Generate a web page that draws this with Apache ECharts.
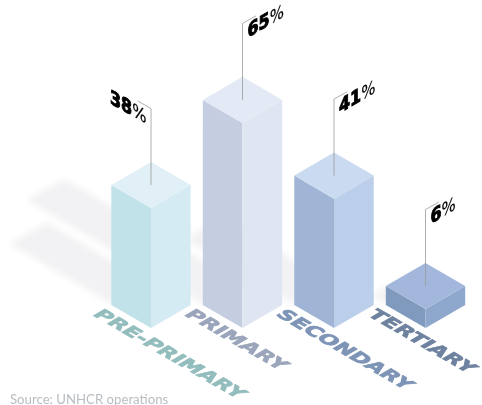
<!DOCTYPE html>
<html>
<head>
<meta charset="utf-8">
<style>html,body{margin:0;padding:0;background:#fff;overflow:hidden}#c{width:482px;height:405px}</style>
<script src="https://cdn.jsdelivr.net/npm/echarts@6/dist/echarts.min.js"></script>
</head>
<body>
<div id="c"></div>
<script>
var categories = ['PRE-PRIMARY', 'PRIMARY', 'SECONDARY', 'TERTIARY'];
var percentages = [38, 65, 41, 6];
var source = 'Source: UNHCR operations';

var leftFaces = ['#c2e2e9', '#c5cee0', '#a0b5d6', '#7f9abd'];
var rightFaces = ['#d5ebf4', '#e0e5f2', '#bbceea', '#8ea7cd'];
var topFaces = ['#e1f0f7', '#e3e9f5', '#cadaf0', '#a3b7dc'];
var labelColors = ['#93bdbd', '#9aa5bb', '#7d94b6', '#6e829f'];

var COS = 0.866, SIN = 0.5, OFF = 1000;

// Nested groups: any 2x2 matrix = rot(phi) * scale * rot(theta)
function warped(x, y, ax, ay, cx, cy, child) {
  var E = (ax + cy) / 2, F = (ax - cy) / 2, G = (ay + cx) / 2, H = (ay - cx) / 2;
  var Q = Math.hypot(E, H), R = Math.hypot(F, G);
  var a1 = Math.atan2(G, F), a2 = Math.atan2(H, E);
  var theta = (a2 - a1) / 2, phi = (a2 + a1) / 2;
  child.rotation = -theta;
  return {
    type: 'group', x: x, y: y, rotation: -phi, scaleX: Q + R, scaleY: Q - R,
    children: [child]
  };
}

function geometry(api) {
  var base = api.coord([api.value(0), 0]);
  var top = api.coord([api.value(0), api.value(1)]);
  var hw = api.size([1, 0])[0] * 0.434;
  return { x: base[0], y0: base[1], y1: top[1], hw: hw, dy: hw * 0.58 };
}

function renderShadow(params, api) {
  var g = geometry(api), v = api.value(1);
  var L = v * 2.74, dx = L, dy = L * 0.59;
  var lx = g.x - g.hw + 2, ly = g.y0 - g.dy;
  var bx = g.x, by = g.y0 - 2 * g.dy + 2;
  var pts = [[lx, ly], [lx - dx, ly - dy], [bx - dx, by - dy], [bx, by]].map(function (p) {
    return [p[0] - OFF, p[1]];
  });
  return {
    type: 'polygon',
    shape: { points: pts },
    style: { fill: '#f2f2f4', shadowBlur: 7, shadowColor: '#f2f2f4', shadowOffsetX: OFF, shadowOffsetY: 0 }
  };
}

function renderBar(params, api) {
  var i = params.dataIndex, g = geometry(api), x = g.x, hw = g.hw, d = g.dy;
  var poleTop = g.y1 - d - 76.5;
  var left = i === 0;
  var val = api.value(1);
  var flagX = left ? x - 13 : x + 13.4;
  var text = {
    type: 'text',
    style: {
      text: '{n|' + val + '}{p|%}',
      x: 0, y: 0, textAlign: 'left', verticalAlign: 'bottom', textVerticalAlign: 'bottom',
      fill: '#000',
      rich: {
        n: { fontFamily: 'DejaVu Sans', fontWeight: 'bold', fontSize: 17, fill: '#000', stroke: '#000', lineWidth: 0.9 },
        p: { fontFamily: 'DejaVu Sans', fontWeight: 'normal', fontSize: 16, fill: '#000', stroke: '#000', lineWidth: 0.2 }
      }
    }
  };
  var S = 1.08, V = 1.14;
  var valueLabel = left
    ? warped(x - 41, poleTop - 1, COS * S, SIN * S, 0, V, text)
    : warped(x + 5, poleTop + 19, COS * S, -SIN * S, 0, V, text);
  var floorLabel = warped(x - 63, g.y0 - 11, COS * 1.46, SIN * 1.46, -COS * 1.22, SIN * 1.22, {
    type: 'text',
    style: {
      text: categories[i], x: 0, y: 0, textAlign: 'left', verticalAlign: 'bottom', textVerticalAlign: 'bottom',
      font: 'bold 15px "DejaVu Sans"', fill: labelColors[i], stroke: labelColors[i], lineWidth: 0.7
    }
  });
  return {
    type: 'group',
    children: [
      { type: 'polygon', shape: { points: [[x - hw, g.y1 - d], [x, g.y1], [x, g.y0], [x - hw, g.y0 - d]] }, style: { fill: leftFaces[i] } },
      { type: 'polygon', shape: { points: [[x + hw, g.y1 - d], [x, g.y1], [x, g.y0], [x + hw, g.y0 - d]] }, style: { fill: rightFaces[i] } },
      { type: 'polygon', shape: { points: [[x - hw, g.y1 - d], [x, g.y1 - 2 * d], [x + hw, g.y1 - d], [x, g.y1]] }, style: { fill: topFaces[i] } },
      { type: 'polyline', shape: { points: [[x, g.y1 - d], [x, poleTop], [flagX, poleTop - 7.5]] }, style: { fill: 'none', stroke: '#9a9a9a', lineWidth: 0.8 } },
      valueLabel,
      floorLabel
    ]
  };
}

var seriesData = percentages.map(function (v, i) { return [i, v]; });
var chart = echarts.init(document.getElementById('c'), null, { renderer: 'canvas' });
chart.setOption({
  animation: false,
  backgroundColor: '#fff',
  title: {
    text: source, left: 10, top: 393, padding: 0,
    textStyle: { fontFamily: 'Lato', fontWeight: 'normal', fontSize: 13.2, color: '#b9bdc1' }
  },
  grid: { left: 105.25, right: 10.75, top: 12.5, bottom: 77 },
  xAxis: { type: 'category', data: categories, show: false },
  yAxis: { type: 'value', min: 0, max: 100, show: false },
  series: [
    { type: 'custom', z: 1, silent: true, clip: false, renderItem: renderShadow, encode: { x: 0, y: 1 }, data: seriesData },
    { type: 'custom', z: 2, silent: true, clip: false, renderItem: renderBar, encode: { x: 0, y: 1 }, data: seriesData }
  ]
});
</script>
</body>
</html>
